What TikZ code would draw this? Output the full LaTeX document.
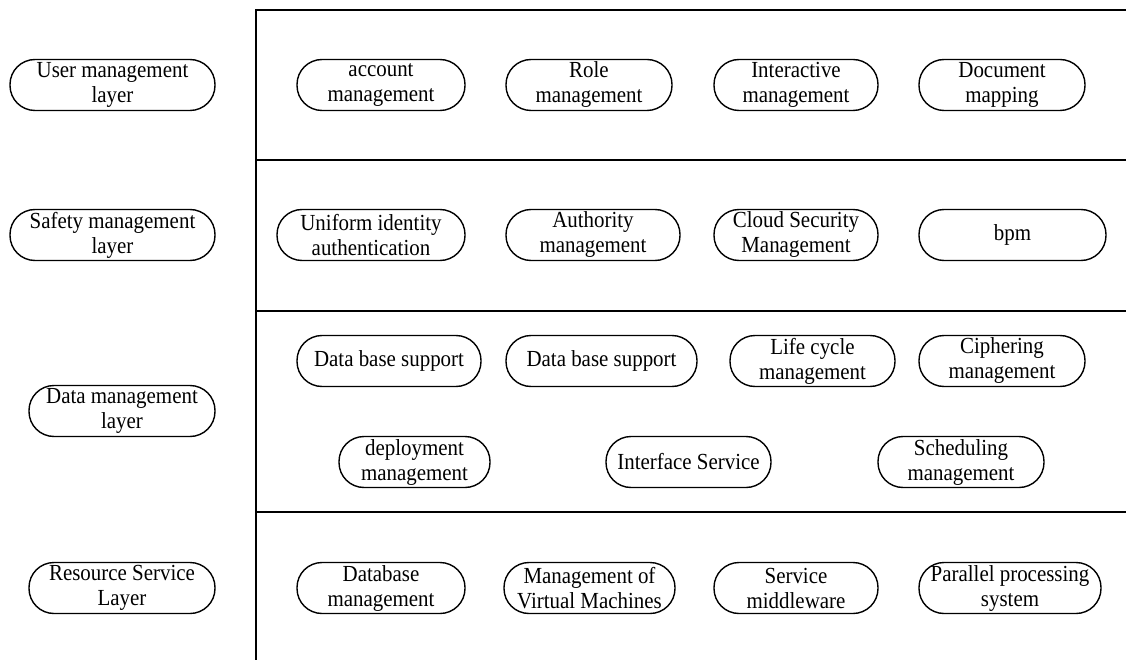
\documentclass[tikz,border=0pt]{standalone}
\usepackage{fontspec}
\setmainfont{Liberation Serif}[FakeStretch=0.91]
\begin{document}
\begin{tikzpicture}[x=1pt,y=-1pt,
  pill/.style={draw, line width=1.4pt, rounded corners=25pt, minimum height=51pt,
    inner sep=0pt, align=center, font=\fontsize{23}{25}\selectfont},
  frame/.style={line width=1.7pt}]
\useasboundingbox (0,0) rectangle (1126,660);
% frame
\draw[frame] (256,660) -- (256,10) -- (1126,10);
\draw[frame] (256,160) -- (1126,160);
\draw[frame] (256,311) -- (1126,311);
\draw[frame] (256,512) -- (1126,512);
% layer labels
\node[pill, minimum width=205pt] (ul) at (112.5,85) {User management\\layer};
\node[pill, minimum width=205pt] (sl) at (112.5,235) {Safety management\\layer};
\node[pill, minimum width=186pt] (dl) at (122,411) {Data management\\layer};
\node[pill, minimum width=186pt] (rl) at (122,588) {Resource Service\\Layer};
% row 1
\node[pill, minimum width=168pt] (a1) at (381,85) {account\\management};
\node[pill, minimum width=166pt] (a2) at (589,85) {Role\\management};
\node[pill, minimum width=164pt] (a3) at (796,85) {Interactive\\management};
\node[pill, minimum width=166pt] (a4) at (1002,85) {Document\\mapping};
% row 2
\node[pill, minimum width=188pt] (b1) at (371,235) {Uniform identity\\authentication};
\node[pill, minimum width=174pt] (b2) at (593,235) {Authority\\management};
\node[pill, minimum width=164pt] (b3) at (796,235) {Cloud Security\\Management};
\node[pill, minimum width=187pt] (b4) at (1012.5,235) {bpm};
% row 3
\node[pill, minimum width=184pt] (c1) at (389,361) {Data base support};
\node[pill, minimum width=191pt] (c2) at (601.5,361) {Data base support};
\node[pill, minimum width=165pt] (c3) at (812.5,361) {Life cycle\\management};
\node[pill, minimum width=166pt] (c4) at (1002,361) {Ciphering\\management};
\node[pill, minimum width=151pt] (d1) at (414.5,462) {deployment\\management};
\node[pill, minimum width=165pt] (d2) at (688.5,462) {Interface Service};
\node[pill, minimum width=166pt] (d3) at (961,462) {Scheduling\\management};
% row 4
\node[pill, minimum width=168pt] (e1) at (381,588) {Database\\management};
\node[pill, minimum width=171pt] (e2) at (589.5,588) {Management of\\Virtual Machines};
\node[pill, minimum width=164pt] (e3) at (796,588) {Service\\middleware};
\node[pill, minimum width=182pt] (e4) at (1010,588) {Parallel processing\\system};
\end{tikzpicture}
\end{document}
